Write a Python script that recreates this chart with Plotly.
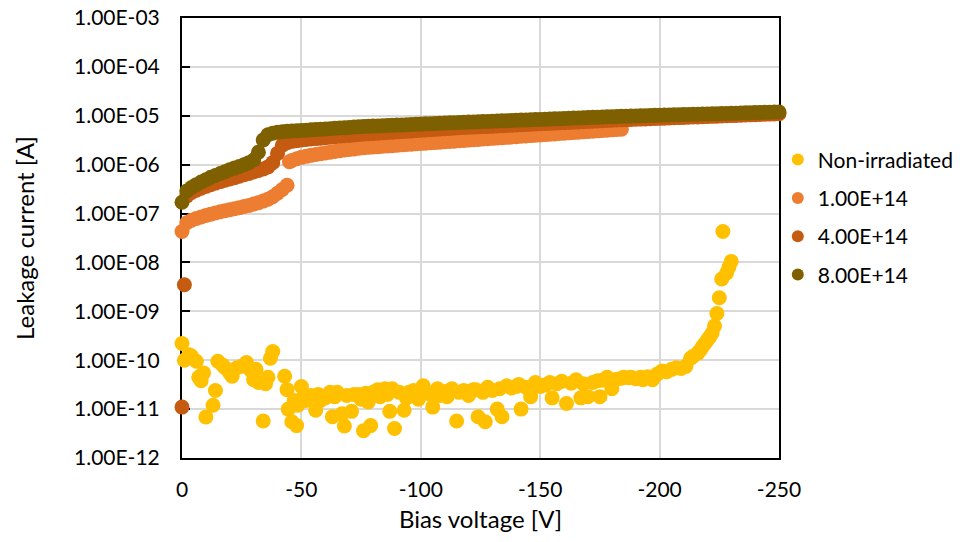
import plotly.graph_objects as go

# ---------------- data ----------------
# Non-irradiated sensor (scattered, noisy)
v_non = [0, -1, -3, -4, -6, -7, -8, -9, -10, -13, -14, -15, -17, -18, -20, -21, -23, -25, -27, -29,
         -30, -31, -32, -34, -35, -36, -37, -38, -43, -44, -44.5, -46, -47, -48, -48.5, -50, -51, -52, -54, -56,
         -57, -58, -60, -62, -63, -64, -65, -67, -68, -69, -71, -72, -74, -75, -76, -77, -78, -79, -80, -82,
         -83, -85, -86, -87, -88, -89, -91, -93, -94, -95, -97, -99, -101, -102, -104, -105, -107, -108, -110, -111,
         -113, -115, -116, -118, -120, -122, -123, -124, -126, -127, -128, -130, -132, -133, -134, -136, -138, -140, -141, -142,
         -144, -146, -148, -150, -152, -154, -155, -157, -159, -161, -163, -165, -167, -168, -170, -172, -174, -175, -176, -178,
         -180, -182, -184, -185, -187, -188, -190, -192, -193, -195, -197, -199, -201, -203, -205, -207, -209, -211, -213, -214,
         -216, -217, -218, -219, -220, -221, -222, -223, -224, -225, -226, -226.5, -228, -229, -230]
i_non = [2.2e-10, 1.0e-10, 1.3e-10, 1.2e-10, 9.5e-11, 4.5e-11, 3.8e-11, 5.5e-11, 6.9e-12, 1.2e-11, 2.4e-11, 9.5e-11, 8.0e-11, 7.0e-11, 5.5e-11, 4.7e-11, 7.0e-11, 7.5e-11, 9.0e-11, 6.0e-11,
         4.0e-11, 6.5e-11, 3.5e-11, 5.7e-12, 3.3e-11, 4.5e-11, 1.1e-10, 1.5e-10, 4.7e-11, 2.5e-11, 1.0e-11, 5.5e-12, 1.5e-11, 4.6e-12, 1.2e-11, 2.9e-11, 1.8e-11, 1.5e-11, 1.9e-11, 9.5e-12,
         2.0e-11, 1.5e-11, 1.7e-11, 2.2e-11, 7.0e-12, 1.8e-11, 2.2e-11, 8.0e-12, 4.5e-12, 1.9e-11, 9.0e-12, 2.0e-11, 2.0e-11, 1.6e-11, 3.6e-12, 2.1e-11, 1.4e-11, 4.6e-12, 2.2e-11, 2.5e-11,
         1.8e-11, 2.6e-11, 2.0e-11, 9.0e-12, 2.6e-11, 4.0e-12, 2.2e-11, 9.5e-12, 1.7e-11, 2.2e-11, 2.4e-11, 1.6e-11, 3.0e-11, 2.2e-11, 2.0e-11, 1.1e-11, 2.6e-11, 1.9e-11, 2.3e-11, 1.8e-11,
         2.6e-11, 5.7e-12, 2.2e-11, 2.4e-11, 1.9e-11, 2.5e-11, 2.5e-11, 7.0e-12, 2.2e-11, 5.5e-12, 2.8e-11, 2.4e-11, 1.0e-11, 2.6e-11, 7.0e-12, 3.0e-11, 2.7e-11, 2.9e-11, 3.2e-11, 1.0e-11,
         2.8e-11, 1.8e-11, 3.5e-11, 2.9e-11, 3.1e-11, 3.5e-11, 1.7e-11, 3.3e-11, 3.7e-11, 1.3e-11, 3.4e-11, 4.0e-11, 1.7e-11, 3.3e-11, 1.8e-11, 3.5e-11, 3.8e-11, 1.8e-11, 3.9e-11, 4.5e-11,
         2.6e-11, 4.1e-11, 4.3e-11, 4.5e-11, 4.4e-11, 4.5e-11, 4.2e-11, 4.5e-11, 4.0e-11, 4.6e-11, 4.0e-11, 5.2e-11, 6.0e-11, 5.8e-11, 6.5e-11, 7.0e-11, 6.8e-11, 7.5e-11, 1.1e-10, 1.2e-10,
         1.4e-10, 1.6e-10, 1.9e-10, 2.2e-10, 2.6e-10, 3.0e-10, 3.6e-10, 5.0e-10, 9.0e-10, 1.9e-9, 4.6e-9, 4.3e-8, 6.0e-9, 8.0e-9, 1.05e-8]

# 1.00E+14 fluence
v_1e14 = list(range(0, -46, -2)) + [-45] + list(range(-46, -186, -2))
i_1e14 = [4.3e-8, 6.5e-8, 7.3e-8, 7.9e-8, 8.5e-8, 9.1e-8, 9.7e-8, 1.03e-7, 1.09e-7, 1.14e-7, 1.20e-7, 1.26e-7,
          1.32e-7, 1.39e-7, 1.47e-7, 1.56e-7, 1.67e-7, 1.80e-7, 1.97e-7, 2.2e-7, 2.6e-7, 3.1e-7, 3.8e-7,
          1.15e-6,
          1.22e-6, 1.32e-6, 1.41e-6, 1.48e-6, 1.55e-6, 1.61e-6, 1.67e-6, 1.74e-6, 1.80e-6, 1.87e-6, 1.93e-6, 1.99e-6,
          2.04e-6, 2.10e-6, 2.16e-6, 2.22e-6, 2.26e-6, 2.30e-6, 2.33e-6, 2.38e-6, 2.42e-6, 2.45e-6, 2.49e-6, 2.54e-6,
          2.58e-6, 2.62e-6, 2.67e-6, 2.71e-6, 2.75e-6, 2.80e-6, 2.84e-6, 2.89e-6, 2.94e-6, 2.99e-6, 3.03e-6, 3.08e-6,
          3.13e-6, 3.18e-6, 3.24e-6, 3.29e-6, 3.34e-6, 3.40e-6, 3.45e-6, 3.51e-6, 3.56e-6, 3.62e-6, 3.68e-6, 3.74e-6,
          3.80e-6, 3.86e-6, 3.93e-6, 3.99e-6, 4.06e-6, 4.12e-6, 4.19e-6, 4.26e-6, 4.33e-6, 4.40e-6, 4.47e-6, 4.54e-6,
          4.61e-6, 4.69e-6, 4.76e-6, 4.84e-6, 4.92e-6, 5.00e-6, 5.08e-6, 5.16e-6, 5.25e-6, 5.33e-6]

# 4.00E+14 fluence
v_4e14 = [0, -1] + list(range(-2, -252, -2))
i_4e14 = [1.1e-11, 3.5e-9,
          2.3e-7, 2.7e-7, 3.0e-7, 3.3e-7, 3.6e-7, 3.9e-7, 4.2e-7, 4.5e-7, 4.8e-7, 5.1e-7, 5.4e-7, 5.8e-7, 6.2e-7,
          6.6e-7, 7.1e-7, 7.6e-7, 8.2e-7, 9.0e-7, 1.1e-6, 1.7e-6, 2.5e-6, 2.8e-6, 3.0e-6, 3.1e-6, 3.2e-6,
          3.27e-6, 3.34e-6, 3.41e-6, 3.49e-6, 3.56e-6, 3.64e-6, 3.72e-6, 3.80e-6, 3.89e-6, 3.97e-6, 4.06e-6, 4.15e-6,
          4.22e-6, 4.28e-6, 4.35e-6, 4.41e-6, 4.48e-6, 4.55e-6, 4.62e-6, 4.69e-6, 4.76e-6, 4.83e-6, 4.90e-6, 4.97e-6,
          5.05e-6, 5.12e-6, 5.20e-6, 5.28e-6, 5.36e-6, 5.44e-6, 5.52e-6, 5.60e-6, 5.68e-6,
          5.74e-6, 5.81e-6, 5.87e-6, 5.94e-6, 6.00e-6, 6.07e-6, 6.14e-6, 6.20e-6, 6.27e-6, 6.34e-6, 6.41e-6, 6.48e-6,
          6.56e-6, 6.63e-6, 6.70e-6, 6.78e-6, 6.85e-6, 6.93e-6, 7.00e-6, 7.08e-6, 7.16e-6, 7.24e-6, 7.32e-6, 7.40e-6,
          7.48e-6, 7.56e-6, 7.65e-6, 7.73e-6, 7.82e-6, 7.90e-6, 7.99e-6, 8.08e-6, 8.17e-6, 8.26e-6,
          8.33e-6, 8.40e-6, 8.48e-6, 8.55e-6, 8.62e-6, 8.70e-6, 8.78e-6, 8.85e-6, 8.93e-6, 9.01e-6, 9.09e-6, 9.17e-6,
          9.25e-6, 9.33e-6, 9.41e-6, 9.49e-6, 9.57e-6, 9.66e-6, 9.74e-6, 9.83e-6, 9.91e-6, 1.000e-5, 1.009e-5, 1.018e-5,
          1.027e-5, 1.036e-5, 1.045e-5, 1.054e-5, 1.063e-5, 1.072e-5, 1.082e-5, 1.091e-5, 1.100e-5]

# 8.00E+14 fluence
v_8e14 = list(range(0, -252, -2))
i_8e14 = [1.7e-7, 2.9e-7, 3.4e-7, 3.9e-7, 4.4e-7, 4.9e-7, 5.5e-7, 6.0e-7, 6.6e-7, 7.2e-7, 7.9e-7, 8.5e-7, 9.2e-7,
          1.0e-6, 1.1e-6, 1.25e-6, 1.8e-6, 3.2e-6, 4.1e-6, 4.4e-6, 4.6e-6, 4.7e-6, 4.8e-6, 4.9e-6, 4.95e-6, 5.0e-6,
          5.08e-6, 5.15e-6, 5.23e-6, 5.31e-6, 5.38e-6, 5.46e-6, 5.54e-6, 5.63e-6, 5.71e-6, 5.79e-6, 5.88e-6, 5.96e-6,
          6.03e-6, 6.09e-6, 6.15e-6, 6.21e-6, 6.27e-6, 6.33e-6, 6.39e-6, 6.45e-6, 6.51e-6, 6.57e-6, 6.64e-6, 6.70e-6,
          6.76e-6, 6.83e-6, 6.89e-6, 6.96e-6, 7.02e-6, 7.09e-6, 7.16e-6, 7.23e-6, 7.30e-6,
          7.36e-6, 7.42e-6, 7.49e-6, 7.55e-6, 7.62e-6, 7.68e-6, 7.75e-6, 7.81e-6, 7.88e-6, 7.95e-6, 8.02e-6, 8.09e-6,
          8.16e-6, 8.23e-6, 8.30e-6, 8.37e-6, 8.44e-6, 8.51e-6, 8.59e-6, 8.66e-6, 8.74e-6, 8.81e-6, 8.89e-6, 8.96e-6,
          9.04e-6, 9.12e-6, 9.20e-6, 9.28e-6, 9.36e-6, 9.44e-6, 9.52e-6, 9.60e-6, 9.68e-6, 9.77e-6,
          9.83e-6, 9.89e-6, 9.95e-6, 1.001e-5, 1.007e-5, 1.014e-5, 1.020e-5, 1.026e-5, 1.033e-5, 1.039e-5, 1.046e-5,
          1.052e-5, 1.059e-5, 1.065e-5, 1.072e-5, 1.078e-5, 1.085e-5, 1.092e-5, 1.098e-5, 1.105e-5, 1.112e-5, 1.119e-5,
          1.126e-5, 1.133e-5, 1.140e-5, 1.147e-5, 1.154e-5, 1.161e-5, 1.168e-5, 1.176e-5, 1.183e-5, 1.190e-5, 1.198e-5]

series_names = ["Non-irradiated", "1.00E+14", "4.00E+14", "8.00E+14"]
series_colors = ["#FFC000", "#ED7D31", "#C55A11", "#7F6000"]

x_tick_vals = [0, -50, -100, -150, -200, -250]
x_tick_text = ["0", "-50", "-100", "-150", "-200", "-250"]
y_tick_vals = [1e-12, 1e-11, 1e-10, 1e-9, 1e-8, 1e-7, 1e-6, 1e-5, 1e-4, 1e-3]
y_tick_text = ["1.00E-12", "1.00E-11", "1.00E-10", "1.00E-09", "1.00E-08",
               "1.00E-07", "1.00E-06", "1.00E-05", "1.00E-04", "1.00E-03"]

# ---------------- figure ----------------
xs_all = [v_non, v_1e14, v_4e14, v_8e14]
ys_all = [i_non, i_1e14, i_4e14, i_8e14]
for xs, ys in zip(xs_all, ys_all):
    n = min(len(xs), len(ys))
    del xs[n:]
    del ys[n:]

fig = go.Figure()
for name, color, xs, ys in zip(series_names, series_colors, xs_all, ys_all):
    fig.add_trace(go.Scatter(
        x=xs, y=ys, mode="markers", name=name, legendgroup=name,
        marker=dict(color=color, size=15, line=dict(width=0)),
        cliponaxis=False,
    ))

FONT = "Lato"
TICK_SIZE = 21
TITLE_SIZE = 24
fig.update_layout(
    width=963, height=542,
    margin=dict(l=182, r=184, t=18, b=84, autoexpand=False),
    paper_bgcolor="white", plot_bgcolor="white",
    font=dict(family=FONT, size=TICK_SIZE, color="black"),
    showlegend=True,
    legend=dict(x=0.998, xanchor="left", y=0.724, yanchor="top",
                tracegroupgap=8, itemsizing="constant",
                font=dict(family=FONT, size=TICK_SIZE, color="black"),
                bgcolor="rgba(0,0,0,0)"),
)
fig.update_xaxes(
    range=[0, -250], tickmode="array", tickvals=x_tick_vals, ticktext=x_tick_text,
    showgrid=True, gridcolor="#D9D9D9", gridwidth=1.5,
    showline=True, linecolor="black", linewidth=2, mirror=True,
    ticks="", zeroline=False, layer="below traces",
    tickfont=dict(family=FONT, size=TICK_SIZE, color="black"),
    ticklabelstandoff=12,
    title=dict(text="Bias voltage [V]", font=dict(family=FONT, size=TITLE_SIZE, color="black"), standoff=11),
)
fig.update_yaxes(
    type="log", range=[-12, -3], tickmode="array", tickvals=y_tick_vals, ticktext=y_tick_text,
    showgrid=True, gridcolor="#D9D9D9", gridwidth=1.5,
    showline=True, linecolor="black", linewidth=2, mirror=True,
    ticks="inside", ticklen=8, tickwidth=2, tickcolor="black",
    zeroline=False, layer="below traces",
    tickfont=dict(family=FONT, size=TICK_SIZE, color="black"),
    ticklabelstandoff=16,
    title=dict(text="Leakage current [A]", font=dict(family=FONT, size=TITLE_SIZE, color="black"), standoff=33),
)

fig.write_html("out.html")
